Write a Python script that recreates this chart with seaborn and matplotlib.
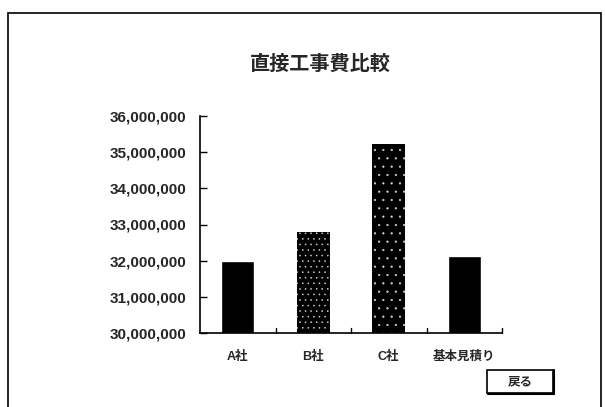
import matplotlib
matplotlib.use("Agg")
import matplotlib.pyplot as plt
from matplotlib.patches import Rectangle
from matplotlib.ticker import StrMethodFormatter
import seaborn as sns
import pandas as pd

# chart data
companies = ["A社", "B社", "C社", "基本見積り"]
costs = [32000000, 32800000, 35220000, 32130000]
y_ticks = [30000000, 31000000, 32000000, 33000000, 34000000, 35000000, 36000000]
title = "直接工事費比較"
button_label = "戻る"

sns.set_theme(style="white")
plt.rcParams["font.family"] = ["Liberation Sans", "Noto Sans CJK JP", "DejaVu Sans"]
plt.rcParams["font.weight"] = "bold"
plt.rcParams["hatch.linewidth"] = 0.35

df = pd.DataFrame({"company": companies, "cost": costs})

fig = plt.figure(figsize=(6.05, 4.07), dpi=100)
ax = fig.add_axes([200 / 605, 1 - 333 / 407, 302 / 605, 217 / 407])

sns.barplot(data=df, x="company", y="cost", color="black", width=0.44,
            saturation=1, ax=ax)

# speckled texture on B and C bars
hatches = [None, "...", "..", None]
for bar, h in zip(ax.patches, hatches):
    bar.set_facecolor("black")
    if h:
        bar.set_hatch(h)
        bar.set_edgecolor("#d8d8d8")
        bar.set_linewidth(0)

ax.set_ylim(30000000, 36000000)
ax.set_xlim(-0.5, 3.5)
ax.set_yticks(y_ticks)
ax.yaxis.set_major_formatter(StrMethodFormatter("{x:,.0f}"))
ax.set_xlabel("")
ax.set_ylabel("")

for side in ["top", "right"]:
    ax.spines[side].set_visible(False)
for side in ["left", "bottom"]:
    ax.spines[side].set_color("black")
    ax.spines[side].set_linewidth(1.2)

ax.tick_params(axis="y", direction="in", length=5, width=1, color="black",
               labelsize=11, pad=10, left=True)
ax.tick_params(axis="x", bottom=False, labelsize=9, pad=7)
for lbl in ax.get_yticklabels():
    lbl.set_fontweight("bold")
for lbl in ax.get_xticklabels():
    lbl.set_fontweight("bold")

# small inward ticks on x axis between categories
for xb in [0.5, 1.5, 2.5, 3.5]:
    ax.plot([xb, xb], [30000000, 30000000 + 6000000 * 5 / 217], color="black",
            lw=1, clip_on=False)

fig.text(0.53, 1 - 63 / 407, title, ha="center", va="center", fontsize=14.5,
         fontweight="bold", family=["Noto Sans CJK JP", "DejaVu Sans"])

# outer frame
fig.add_artist(Rectangle((8 / 605, -0.2), 593 / 605, 1.2 - 13 / 407,
                         transform=fig.transFigure, fill=False,
                         ec="black", lw=1.2))

# "戻る" button
bx, by, bw, bh = 487 / 605, 1 - 393 / 407, 66 / 605, 23 / 407
fig.add_artist(Rectangle((bx, by), bw, bh, transform=fig.transFigure,
                         fc="white", ec="black", lw=1.2))
fig.add_artist(plt.Line2D([bx + 0.002, bx + bw + 0.002], [by - 0.003, by - 0.003],
                          transform=fig.transFigure, color="black", lw=1.5))
fig.add_artist(plt.Line2D([bx + bw + 0.002, bx + bw + 0.002], [by - 0.003, by + bh],
                          transform=fig.transFigure, color="black", lw=1.5))
fig.text(bx + bw / 2, by + bh / 2, button_label, ha="center", va="center",
         fontsize=9, fontweight="bold", family=["Noto Sans CJK JP", "DejaVu Sans"])

fig.savefig("out.png", dpi=100)
